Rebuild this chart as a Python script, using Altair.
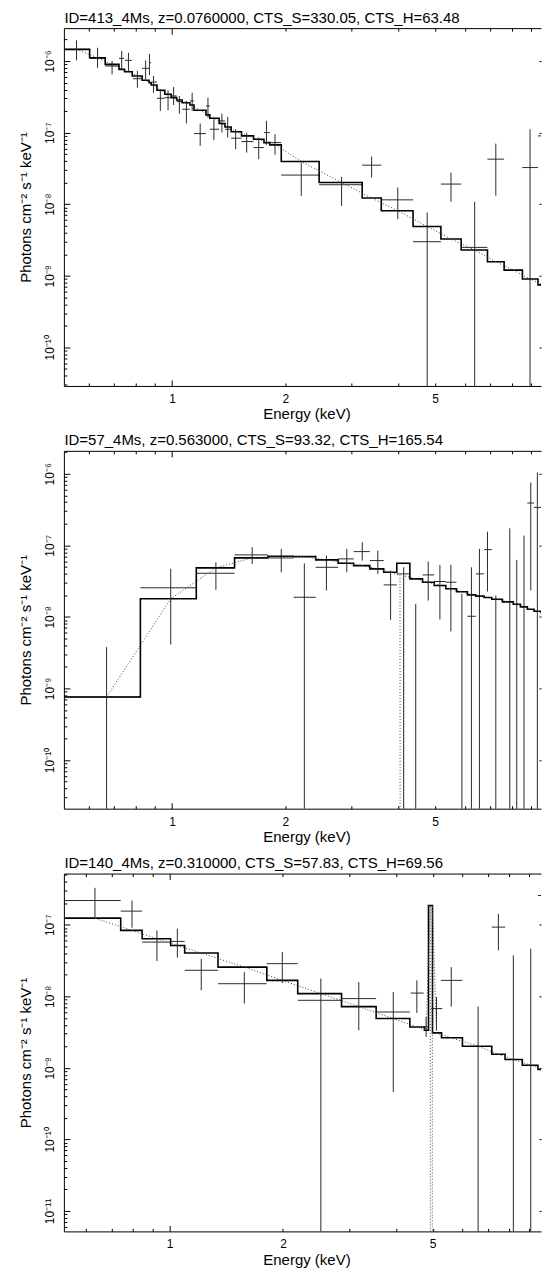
import altair as alt
import pandas as pd

FONT = "Liberation Sans, Arial, Helvetica, sans-serif"
INK = "#000000"

# ---------------- text ----------------
panel_titles = [
    "ID=413_4Ms, z=0.0760000, CTS_S=330.05, CTS_H=63.48",
    "ID=57_4Ms, z=0.563000, CTS_S=93.32, CTS_H=165.54",
    "ID=140_4Ms, z=0.310000, CTS_S=57.83, CTS_H=69.56",
]
x_title = "Energy (keV)"
y_title = "Photons cm\u207b\u00b2 s\u207b\u00b9 keV\u207b\u00b9"

x_tick_values = [0.6, 0.7, 0.8, 0.9, 1, 2, 3, 4, 5, 6, 7, 8, 9]
x_label_values = [1, 2, 5]
x_label_text = ["1", "2", "5"]
y_mantissas = [1, 2, 3, 4, 5, 6, 7, 8, 9]
y_label_exponents = [-5, -6, -7, -8, -9, -10, -11, -12]
y_label_text = ["10\u207b\u2075", "10\u207b\u2076", "10\u207b\u2077", "10\u207b\u2078",
                "10\u207b\u2079", "10\u207b\u00b9\u2070", "10\u207b\u00b9\u00b9", "10\u207b\u00b9\u00b2"]

# ---------------- axis ranges ----------------
p1_xdomain = [0.516, 9.56]
p1_ydomain = [2.885e-11, 2.885e-6]
p2_xdomain = [0.516, 9.56]
p2_ydomain = [2.09e-11, 2.09e-6]
p3_xdomain = [0.5234, 9.70]
p3_ydomain = [5.19e-12, 5.19e-7]

# ---------------- panel 1 : ID=413 ----------------
p1_e = [0.5575, 0.634, 0.693, 0.735, 0.766, 0.809, 0.851, 0.871, 0.893, 0.931, 0.976, 1.010, 1.046,
        1.092, 1.131, 1.188, 1.246, 1.292, 1.357, 1.406, 1.476, 1.579, 1.700, 1.782, 1.878, 2.205,
        2.822, 3.391, 3.980, 4.765, 5.511, 6.371, 7.251, 8.940, 9.74]
p1_elo = [0.5165, 0.604, 0.6645, 0.723, 0.750, 0.787, 0.833, 0.869, 0.880, 0.912, 0.957, 0.995, 1.029,
          1.064, 1.115, 1.144, 1.231, 1.260, 1.334, 1.383, 1.436, 1.530, 1.647, 1.755, 1.819, 1.951,
          2.460, 3.201, 3.598, 4.370, 5.182, 5.865, 6.890, 8.531, 9.387]
p1_ehi = [0.6018, 0.6645, 0.723, 0.746, 0.782, 0.833, 0.869, 0.880, 0.912, 0.957, 0.995, 1.029, 1.064,
          1.115, 1.144, 1.231, 1.260, 1.334, 1.383, 1.436, 1.530, 1.647, 1.755, 1.819, 1.951, 2.460,
          3.201, 3.598, 4.370, 5.182, 5.865, 6.890, 7.629, 9.387, 10.16]
p1_f = [1.456e-6, 1.091e-6, 8.52e-7, 1.091e-6, 1.023e-6, 5.66e-7, 7.91e-7, 9.47e-7, 5.09e-7, 3.02e-7,
        3.08e-7, 3.25e-7, 2.71e-7, 2.12e-7, 2.77e-7, 9.68e-8, 2.36e-7, 1.115e-7, 1.46e-7, 1.115e-7,
        8.36e-8, 7.49e-8, 6.18e-8, 1.0e-7, 7.25e-8, 2.55e-8, 1.87e-8, 3.51e-8, 1.15e-8, 2.99e-9,
        1.91e-8, 2.49e-9, 4.26e-8, 3.25e-8, 9.0e-8]
p1_flo = [1.023e-6, 8.06e-7, 6.52e-7, 7.66e-7, 7.25e-7, 4.24e-7, 5.55e-7, 6.38e-7, 3.61e-7, 2.01e-7,
          2.05e-7, 2.43e-7, 1.84e-7, 1.34e-7, 2.01e-7, 6.53e-8, 1.62e-7, 7.83e-8, 1.0e-7, 8.52e-8,
          5.87e-8, 5.26e-8, 4.26e-8, 6.74e-8, 4.89e-8, 1.31e-8, 9.5e-9, 2.36e-8, 6.2e-9, 1e-14,
          1.08e-8, 1e-14, 1.31e-8, 1e-14, 1e-14]
p1_fhi = [1.944e-6, 1.532e-6, 1.0e-6, 1.379e-6, 1.305e-6, 7.25e-7, 1.023e-6, 1.264e-6, 6.18e-7, 4.03e-7,
          3.90e-7, 4.34e-7, 3.25e-7, 2.77e-7, 3.61e-7, 1.34e-7, 3.08e-7, 1.54e-7, 1.84e-7, 1.66e-7,
          1.115e-7, 1.0e-7, 8.52e-8, 1.46e-7, 9.5e-8, 3.82e-8, 2.41e-8, 4.63e-8, 1.71e-8, 7.66e-9,
          2.77e-8, 1.08e-8, 7.02e-8, 1.115e-7, 4.24e-7]
p1_step_edges = [0.5165, 0.604, 0.6645, 0.723, 0.748, 0.784, 0.833, 0.869, 0.880, 0.912, 0.957, 0.995,
                 1.029, 1.064, 1.115, 1.144, 1.231, 1.260, 1.334, 1.383, 1.436, 1.530, 1.647, 1.755,
                 1.819, 1.951, 2.460, 3.201, 3.598, 4.370, 5.182, 5.865, 6.890, 7.629, 8.531, 9.387, 10.16]
p1_step_vals = [1.456e-6, 1.11e-6, 8.99e-7, 7.66e-7, 7.1e-7, 6.18e-7, 5.38e-7, 4.98e-7, 4.63e-7, 3.90e-7,
                3.43e-7, 3.08e-7, 2.86e-7, 2.62e-7, 2.43e-7, 2.05e-7, 1.77e-7, 1.59e-7, 1.34e-7, 1.2e-7,
                1.03e-7, 9.0e-8, 8.09e-8, 7.25e-8, 6.74e-8, 3.94e-8, 2.01e-8, 1.22e-8, 8.1e-9, 4.89e-9,
                3.26e-9, 2.29e-9, 1.57e-9, 1.2e-9, 9.0e-10, 7.45e-10]
p1_model_e = [0.5575, 0.634, 0.693, 0.735, 0.766, 0.809, 0.851, 0.874, 0.896, 0.934, 0.976, 1.012,
              1.046, 1.089, 1.129, 1.187, 1.245, 1.296, 1.358, 1.409, 1.482, 1.587, 1.700, 1.787,
              1.884, 2.205, 2.822, 3.391, 3.980, 4.765, 5.511, 6.371, 7.251, 8.07, 8.940, 9.74]
p1_model_f = [1.456e-6, 1.11e-6, 8.99e-7, 7.66e-7, 7.1e-7, 6.18e-7, 5.38e-7, 4.98e-7, 4.63e-7, 3.90e-7,
              3.43e-7, 3.08e-7, 2.86e-7, 2.62e-7, 2.43e-7, 2.05e-7, 1.77e-7, 1.59e-7, 1.34e-7, 1.2e-7,
              1.03e-7, 9.0e-8, 8.09e-8, 7.25e-8, 6.74e-8, 3.94e-8, 2.01e-8, 1.22e-8, 8.1e-9, 4.89e-9,
              3.26e-9, 2.29e-9, 1.57e-9, 1.2e-9, 9.0e-10, 7.45e-10]

# ---------------- panel 2 : ID=57 ----------------
p2_e = [0.670, 0.992, 1.308, 1.633, 1.951, 2.247, 2.572, 2.913, 3.203, 3.522, 3.809, 4.126, 4.442,
        4.795, 5.150, 5.508, 5.891, 6.246, 6.559, 6.890, 7.251, 7.898, 8.241, 8.617, 8.980, 9.349]
p2_elo = [0.5165, 0.824, 1.160, 1.466, 1.797, 2.106, 2.409, 2.762, 3.038, 3.354, 3.652, 3.956, 4.286,
          4.631, 4.974, 5.342, 5.700, 6.095, 6.417, 6.750, 7.076, 7.55, 8.07, 8.43, 8.794, 9.161]
p2_ehi = [0.824, 1.160, 1.466, 1.797, 2.106, 2.409, 2.762, 3.038, 3.354, 3.652, 3.956, 4.286, 4.631,
          4.974, 5.342, 5.700, 6.095, 6.417, 6.750, 7.076, 7.55, 8.07, 8.43, 8.794, 9.161, 9.561]
p2_f = [7.6e-10, 2.55e-8, 4.07e-8, 7.35e-8, 6.67e-8, 1.88e-8, 4.93e-8, 6.46e-8, 8.17e-8, 6.12e-8,
        2.80e-8, 3.99e-8, 1e-12, 3.86e-8, 3.12e-8, 3.05e-8, 1e-12, 1.02e-8, 3.99e-8, 8.71e-8,
        1e-12, 1e-12, 1e-12, 1e-12, 3.90e-7, 3.39e-7]
p2_flo = [1e-14, 4.12e-9, 2.39e-8, 5.5e-8, 4.2e-8, 1e-14, 2.34e-8, 4.2e-8, 6.12e-8, 3.99e-8,
          9.1e-9, 1e-14, 1e-14, 1.69e-8, 9.2e-9, 6.26e-9, 1e-14, 1e-14, 1e-14, 2.26e-8,
          1e-14, 1e-14, 1e-14, 1e-14, 2.34e-8, 1e-14]
p2_fhi = [3.78e-9, 4.69e-8, 5.79e-8, 9.38e-8, 8.91e-8, 5.61e-8, 7.18e-8, 8.91e-8, 1.10e-7, 8.43e-8,
          4.44e-8, 4.93e-8, 1.52e-8, 5.93e-8, 5.33e-8, 5.33e-8, 2.10e-8, 4.93e-8, 8.91e-8, 1.55e-7,
          1.99e-8, 1.73e-7, 6.26e-8, 1.37e-7, 7.56e-7, 1.04e-6]
p2_step_edges = [0.5165, 0.824, 1.160, 1.466, 1.797, 2.106, 2.409, 2.762, 3.038, 3.354, 3.652, 3.956,
                 4.286, 4.631, 4.974, 5.342, 5.700, 6.095, 6.417, 6.750, 7.076, 7.55, 8.07, 8.43,
                 8.794, 9.161, 9.561, 10.0]
p2_step_vals = [7.6e-10, 1.79e-8, 4.84e-8, 6.67e-8, 7.03e-8, 6.95e-8, 6.26e-8, 5.61e-8, 5.21e-8,
                4.69e-8, 4.2e-8, 5.61e-8, 3.40e-8, 3.05e-8, 2.74e-8, 2.47e-8, 2.25e-8, 2.03e-8,
                1.95e-8, 1.87e-8, 1.76e-8, 1.62e-8, 1.5e-8, 1.38e-8, 1.28e-8, 1.2e-8, 1.15e-8]
p2_model_e = [0.670, 0.992, 1.308, 1.633, 1.951, 2.247, 2.572, 2.913, 3.203, 3.522, 3.809, 4.035,
              4.04, 4.12, 4.126, 4.442, 4.795, 5.150, 5.508, 5.891, 6.246, 6.559, 6.890, 7.30, 7.80,
              8.25, 8.61, 8.98, 9.35, 9.78]
p2_model_f = [7.6e-10, 1.79e-8, 4.84e-8, 6.67e-8, 7.03e-8, 6.95e-8, 6.26e-8, 5.61e-8, 5.21e-8,
              4.69e-8, 4.2e-8, 3.8e-8, 1e-14, 1e-14, 3.75e-8, 3.40e-8, 3.05e-8, 2.74e-8, 2.47e-8,
              2.25e-8, 2.03e-8, 1.95e-8, 1.87e-8, 1.76e-8, 1.62e-8, 1.5e-8, 1.38e-8, 1.28e-8,
              1.2e-8, 1.15e-8]

# ---------------- panel 3 : ID=140 ----------------
p3_e = [0.633, 0.794, 0.925, 1.048, 1.213, 1.579, 1.992, 2.522, 3.181, 3.928, 4.538, 4.802, 5.117,
        5.601, 6.601, 7.473, 8.190, 9.111, 9.90]
p3_elo = [0.527, 0.741, 0.845, 1.006, 1.096, 1.345, 1.811, 2.189, 2.862, 3.537, 4.366, 4.733, 4.954,
          5.260, 6.00, 7.178, 7.786, 8.65, 9.52]
p3_ehi = [0.741, 0.845, 1.006, 1.096, 1.345, 1.811, 2.189, 2.862, 3.537, 4.348, 4.733, 4.873, 5.302,
          5.995, 7.178, 7.786, 8.65, 9.52, 10.3]
p3_f = [2.18e-7, 1.55e-7, 5.72e-8, 5.85e-8, 2.31e-8, 1.50e-8, 2.86e-8, 8.8e-9, 9.29e-9, 6.04e-9,
        1.11e-8, 3.73e-9, 6.74e-9, 1.67e-8, 1e-13, 9.26e-8, 1e-13, 1e-13, 2.56e-7]
p3_flo = [1.28e-7, 9.08e-8, 3.11e-8, 3.47e-8, 1.21e-8, 7.91e-9, 1.53e-8, 1e-14, 3.36e-9, 4.62e-10,
          5.85e-9, 2.71e-9, 3.36e-9, 7.18e-9, 1e-14, 4.38e-8, 1e-14, 1e-14, 1.5e-7]
p3_fhi = [3.28e-7, 2.18e-7, 8.33e-8, 8.8e-8, 3.36e-8, 2.18e-8, 4.15e-8, 1.77e-8, 1.58e-8, 1.15e-8,
          1.67e-8, 5.14e-9, 9.77e-9, 2.56e-8, 7.18e-9, 1.42e-7, 3.73e-8, 4.62e-8, 4.0e-7]
p3_step_edges = [0.527, 0.741, 0.845, 1.006, 1.096, 1.344, 1.812, 2.189, 2.862, 3.537, 4.348, 4.753,
                 4.873, 4.994, 5.277, 5.998, 7.178, 7.786, 8.652, 9.52, 10.3]
p3_step_vals = [1.236e-7, 8.33e-8, 6.38e-8, 5.14e-8, 4.02e-8, 2.56e-8, 1.67e-8, 1.09e-8, 7.18e-9,
                4.89e-9, 3.73e-9, 3.36e-9, 1.86e-7, 3.08e-9, 2.63e-9, 2.01e-9, 1.55e-9, 1.31e-9,
                1.09e-9, 9.5e-10]
p3_model_e = [0.633, 0.794, 0.925, 1.048, 1.213, 1.579, 1.992, 2.522, 3.181, 3.928, 4.538, 4.802,
              4.925, 4.93, 4.985, 4.99, 5.117, 5.601, 6.601, 7.473, 8.19, 9.111, 9.90]
p3_model_f = [1.236e-7, 8.33e-8, 6.38e-8, 5.14e-8, 4.02e-8, 2.56e-8, 1.67e-8, 1.09e-8, 7.18e-9,
              4.89e-9, 3.73e-9, 3.36e-9, 1.86e-7, 1e-14, 1e-14, 1.86e-7, 3.08e-9, 2.63e-9, 2.01e-9,
              1.55e-9, 1.31e-9, 1.09e-9, 9.5e-10]

# ---------------- layout ----------------
W, H = 478, 358.5
DEC = "abs(log(datum.value)/LN10 - round(log(datum.value)/LN10)) < 0.001"
X_MAJOR = "datum.value == 1"
CROSS = "#2a2a2a"

x_label_expr = " : ".join(f"datum.value == {v} ? '{t}'" for v, t in zip(x_label_values, x_label_text)) + " : ''"
y_label_expr = (f"!({DEC}) ? '' : " +
                " : ".join(f"round(log(datum.value)/LN10) == {e} ? '{t}'"
                           for e, t in zip(y_label_exponents, y_label_text)) + " : ''")


def y_ticks(dom, mants):
    out = []
    for e in y_label_exponents:
        for m in mants:
            v = float(f"{m}e{e}")
            if dom[0] <= v <= dom[1]:
                out.append(v)
    return sorted(out)


def panel(title, xdom, ydom, e, elo, ehi, f, flo, fhi, s_edges, s_vals, m_e, m_f):
    xs = alt.Scale(type="log", domain=xdom, nice=False)
    ys = alt.Scale(type="log", domain=ydom, nice=False)
    pts = pd.DataFrame({"e": e, "elo": elo, "ehi": ehi, "f": f, "flo": flo, "fhi": fhi})
    step = pd.DataFrame({"x": s_edges, "y": s_vals + [s_vals[-1]], "i": list(range(len(s_edges)))})
    mod = pd.DataFrame({"x": m_e, "y": m_f, "i": list(range(len(m_e)))})

    ax_bottom = alt.Axis(
        orient="bottom", values=x_tick_values, labelExpr=x_label_expr,
        tickSize={"expr": f"{X_MAJOR} ? -6 : -3"},
        labelPadding={"expr": f"{X_MAJOR} ? 13.5 : 10.5"},
        labelFont=FONT, labelFontSize=12, labelColor=INK, labelAngle=0,
        labelAlign="center", labelBaseline="top", labelFlush=False, labelOverlap=False,
        domainColor=INK, domainWidth=1, tickColor=INK, tickWidth=1, grid=False,
        title=x_title, titleFont=FONT, titleFontSize=15, titleFontWeight="normal",
        titleColor=INK, titleX=243, titleY=33, titleAlign="center",
        titleBaseline="alphabetic", titleAngle=0)
    ax_left = alt.Axis(
        orient="left", values=y_ticks(ydom, y_mantissas), labelExpr=y_label_expr,
        tickSize={"expr": f"({DEC}) ? -6 : -3"}, labelPadding=16,
        labelFont=FONT, labelFontSize=12, labelColor=INK, labelAngle=270,
        labelAlign="center", labelBaseline="alphabetic", labelFlush=False, labelOverlap=False,
        domainColor=INK, domainWidth=1, tickColor=INK, tickWidth=1, grid=False,
        title=y_title, titleFont=FONT, titleFontSize=15, titleFontWeight="normal",
        titleColor=INK, titleX=-38, titleY=H / 2, titleAngle=270, titleAlign="center",
        titleBaseline="middle")
    # top frame axis carries the panel title
    ax_top = alt.Axis(
        orient="top", values=x_tick_values, labels=False,
        tickSize={"expr": f"{X_MAJOR} ? -6 : -3"},
        domainColor=INK, domainWidth=1, tickColor=INK, tickWidth=1, grid=False,
        title=title, titleFont=FONT, titleFontSize=15, titleFontWeight="normal",
        titleColor=INK, titleX=0, titleY=-6, titleAlign="left", titleAngle=0,
        titleBaseline="alphabetic", titleLimit=1000)
    ax_right = alt.Axis(
        orient="right", values=y_ticks(ydom, [1]), labels=False, domain=False,
        tickSize={"expr": "-2"}, tickColor=INK, tickWidth=1, grid=False)

    hbar = alt.Chart(pts).mark_rule(clip=True, color=CROSS, strokeWidth=1).encode(
        x=alt.X("elo:Q", scale=xs, axis=ax_bottom),
        x2="ehi:Q",
        y=alt.Y("f:Q", scale=ys, axis=ax_left),
    )
    vbar = alt.Chart(pts).mark_rule(clip=True, color=CROSS, strokeWidth=1).encode(
        x=alt.X("e:Q", scale=xs, axis=None),
        y=alt.Y("flo:Q", scale=ys, axis=None),
        y2="fhi:Q",
    )
    stepl = alt.Chart(step).mark_line(clip=True, interpolate="step-after", color=INK,
                                      strokeWidth=1.6).encode(
        x=alt.X("x:Q", scale=xs, axis=ax_top),
        y=alt.Y("y:Q", scale=ys, axis=ax_right, title=None),
        order="i:Q",
    )
    modl = alt.Chart(mod).mark_line(clip=True, color="#444444", strokeWidth=1,
                                    strokeDash=[1, 2]).encode(
        x=alt.X("x:Q", scale=xs, axis=None),
        y=alt.Y("y:Q", scale=ys, axis=None),
        order="i:Q",
    )
    return alt.layer(hbar, vbar, stepl, modl).resolve_axis(
        x="independent", y="independent").properties(width=W, height=H)


p1 = panel(panel_titles[0], p1_xdomain, p1_ydomain, p1_e, p1_elo, p1_ehi, p1_f, p1_flo, p1_fhi,
           p1_step_edges, p1_step_vals, p1_model_e, p1_model_f)
p2 = panel(panel_titles[1], p2_xdomain, p2_ydomain, p2_e, p2_elo, p2_ehi, p2_f, p2_flo, p2_fhi,
           p2_step_edges, p2_step_vals, p2_model_e, p2_model_f)
p3 = panel(panel_titles[2], p3_xdomain, p3_ydomain, p3_e, p3_elo, p3_ehi, p3_f, p3_flo, p3_fhi,
           p3_step_edges, p3_step_vals, p3_model_e, p3_model_f)

chart = alt.vconcat(p1, p2, p3, spacing=64.5, bounds="flush").properties(
    padding={"left": 19, "top": 9, "right": 0, "bottom": 2},
    background="white",
).configure_view(stroke=None)

chart.save("out.html", embed_options={"renderer": "svg", "actions": False})
